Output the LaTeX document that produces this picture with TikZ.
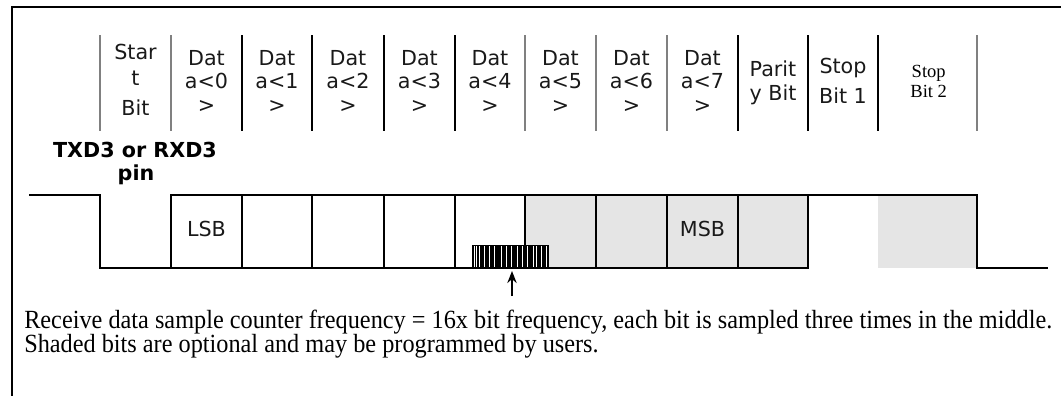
\documentclass[tikz,border=0pt]{standalone}
\usepackage{fontspec}
\setmainfont{Liberation Serif}
\newfontfamily\vsans{DejaVu Sans}
\usetikzlibrary{arrows.meta}
\newsavebox\capboxA
\newsavebox\capboxB
\begin{document}
\sbox\capboxA{\fontsize{10}{12}\selectfont Receive data sample counter frequency = 16x bit frequency, each bit is sampled three times in the middle.}%
\sbox\capboxB{\fontsize{10}{12}\selectfont Shaded bits are optional and may be programmed by users.}%
\pgfmathsetmacro\capscale{771/\the\wd\capboxA}%
\pgfmathsetmacro\capscaley{1.08*\capscale}%
\begin{tikzpicture}[x=0.75pt,y=-0.75pt,
  hdr/.style={anchor=base,inner sep=0pt,font=\vsans\fontsize{15.5}{17}\selectfont,text=black!90},
  tms/.style={anchor=base,inner sep=0pt,font=\fontsize{13.9}{16}\selectfont},
  sepg/.style={draw=black!50,line width=0.9pt},
  sepk/.style={draw=black,line width=0.9pt},
  wave/.style={draw=black,line width=1.5pt},
  shade/.style={fill=black!10},
  frame/.style={draw=black,line width=1.5pt}]
\useasboundingbox (0,0) rectangle (1061,396);
% frame
\draw[frame] (12,396) -- (12,7) -- (1061,7);
% column separators
\foreach \x in {100,171,525,596,667,977} \draw[sepg] (\x,35) -- (\x,131);
\foreach \x in {242,312,384,455,738,808,878} \draw[sepk] (\x,35) -- (\x,131);
% header texts
\node[hdr] (st1) at (135.5,60) {Star};
\node[hdr] (st2) at (135.5,85) {t};
\node[hdr] (st3) at (135.5,115) {Bit};
\foreach \i/\x in {0/206.5,1/277,2/348,3/419.5,4/490,5/560.5,6/631.5,7/702.5}{
  \node[hdr] (d\i a) at (\x,65) {Dat};
  \node[hdr] (d\i b) at (\x,88.5) {a<\i};
  \node[hdr] (d\i c) at (\x,112) {>};
}
\node[hdr] (pa1) at (773,76) {Parit};
\node[hdr] (pa2) at (773,100) {y Bit};
\node[hdr] (sa1) at (843,73) {Stop};
\node[hdr] (sa2) at (843,103) {Bit 1};
\node[tms] (sb1) at (928.7,77) {Stop};
\node[tms] (sb2) at (928.7,97.5) {Bit 2};
% pin label
\node[anchor=base,inner sep=0pt,font=\vsans\bfseries\fontsize{15.5}{17}\selectfont] (pin1) at (135,157) {TXD3 or RXD3};
\node[anchor=base,inner sep=0pt,font=\vsans\bfseries\fontsize{15.5}{17}\selectfont] (pin2) at (136,180) {pin};
% shading
\fill[shade] (525,195) rectangle (808,268);
\fill[shade] (878,195) rectangle (977,268);
% sample stripes
\fill[black] (472,245) rectangle (549,268);
\foreach \x in {474.3,476.7,479.3,484.3,489,494.3,501.7,506.7,511.7,517.3,522.7,527.3,533.3,536.7,541.7,546}
  \draw[white,line width=0.6pt] (\x,246) -- (\x,267);
% waveform
\draw[wave] (29,195) -- (100,195) -- (100,268) -- (808,268) -- (808,195);
\draw[wave] (171,268) -- (171,195) -- (977,195) -- (977,268) -- (1048,268);
\foreach \x in {242,312,384,455,525,596,667,738} \draw[wave] (\x,195) -- (\x,268);
\node[hdr,anchor=center] (lsb) at (206.5,229) {LSB};
\node[hdr,anchor=center] (msb) at (702.5,229) {MSB};
% arrow
\coordinate (atail) at (512,296);
\coordinate (ahead) at (512,271);
\draw[line width=1.3pt,-{Stealth[length=9pt,width=7pt]}] (atail) -- (ahead);
% caption
\node[anchor=base west,inner sep=0pt] (cap1) at (24,328.5) {\scalebox{\capscale}[\capscaley]{\usebox\capboxA}};
\node[anchor=base west,inner sep=0pt] (cap2) at (24,352.5) {\scalebox{\capscale}[\capscaley]{\usebox\capboxB}};
\end{tikzpicture}
\end{document}
